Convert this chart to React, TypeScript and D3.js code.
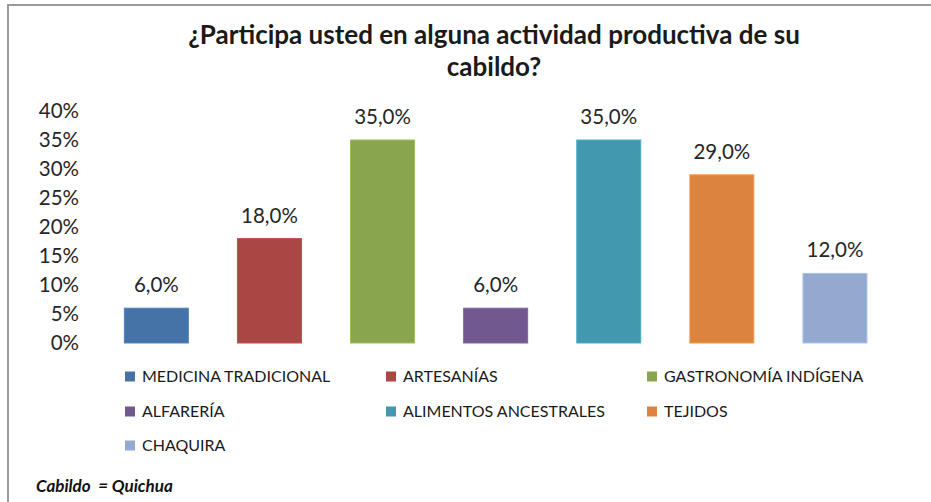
import React from 'react';
import * as d3 from 'd3';

// chart data
const categories = [
  'MEDICINA TRADICIONAL',
  'ARTESANÍAS',
  'GASTRONOMÍA INDÍGENA',
  'ALFARERÍA',
  'ALIMENTOS ANCESTRALES',
  'TEJIDOS',
  'CHAQUIRA',
];
const values = [6, 18, 35, 6, 35, 29, 12];
const colors = ['#4572A7', '#AA4643', '#89A54E', '#71588F', '#4198AF', '#DB843D', '#93A9CF'];
const yTicks = [0, 5, 10, 15, 20, 25, 30, 35, 40];
const titleLines = ['¿Participa usted en alguna actividad productiva de su', 'cabildo?'];
const footnote = 'Cabildo  = Quichua';

const W = 931;
const H = 502;
const font = 'Lato, "Open Sans", sans-serif';

const App = () => {
  // scales
  const x = d3.scaleBand<string>()
    .domain(categories)
    .range([99.8, 891.5])
    .paddingInner(0.434)
    .paddingOuter(0.217);
  const y = d3.scaleLinear()
    .domain([0, 40])
    .range([343, 111]);

  const fmt = (v: number) => v.toFixed(1).replace('.', ',') + '%';

  // legend layout: 3 columns, wraps by row
  const legendCols = [125, 386, 647];
  const legendRows = [382, 417, 451];

  return (
    <svg width={W} height={H} style={{ position: 'absolute', left: 0, top: 0, background: '#fff' }}>
      <rect x={0} y={0} width={W} height={H} fill="#fff" />
      {/* frame */}
      <rect x={8} y={5} width={W + 20} height={H + 20} fill="none" stroke="#9a9a9a" strokeWidth={2} />

      {/* title */}
      <g fontFamily={font} fontWeight="bold" fontSize={26} fill="#1a1a1a" textAnchor="middle">
        {titleLines.map((t, i) => (
          <text key={i} x={494} y={44 + i * 32}>{t}</text>
        ))}
      </g>

      {/* y axis labels */}
      <g fontFamily={font} fontSize={20.5} fill="#262626" textAnchor="end">
        {yTicks.map(t => (
          <text key={t} x={79} y={y(t)} dy="0.36em">{t}%</text>
        ))}
      </g>

      {/* bars */}
      {categories.map((c, i) => (
        <g key={c}>
          <rect
            x={x(c)}
            y={y(values[i])}
            width={x.bandwidth()}
            height={y(0) - y(values[i])}
            fill={colors[i]}
            stroke={d3.color(colors[i])!.brighter(0.4).formatHex()}
            strokeWidth={1}
          />
          <text
            x={x(c)! + x.bandwidth() / 2}
            y={y(values[i]) - 16}
            textAnchor="middle"
            fontFamily={font}
            fontSize={20.5}
            fill="#262626"
          >
            {fmt(values[i])}
          </text>
        </g>
      ))}

      {/* legend */}
      <g fontFamily={font} fontSize={16} fill="#1a1a1a">
        {categories.map((c, i) => {
          const lx = legendCols[i % 3];
          const ly = legendRows[Math.floor(i / 3)];
          return (
            <g key={c}>
              <rect x={lx} y={ly - 10.5} width={10} height={10} fill={colors[i]} />
              <text x={lx + 17} y={ly}>{c}</text>
            </g>
          );
        })}
      </g>

      {/* footnote */}
      <text x={36} y={492} fontFamily={font} fontWeight="bold" fontStyle="italic" fontSize={17} fill="#111" style={{ whiteSpace: 'pre' }}>
        {footnote}
      </text>
    </svg>
  );
};

export default App;
